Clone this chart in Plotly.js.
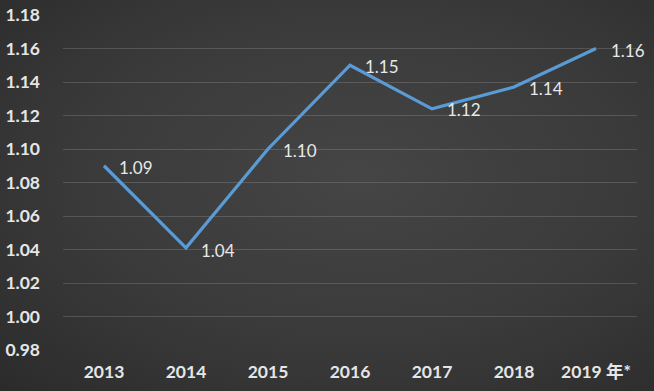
<!DOCTYPE html>
<html><head><meta charset="utf-8">
<script src="https://cdn.plot.ly/plotly-3.0.1.min.js"></script>
<style>
html,body{margin:0;padding:0;}
body{width:654px;height:391px;background:radial-gradient(ellipse at 55% 45%, #454545 0%, #3a3a3a 55%, #2b2b2b 100%);}
#chart{width:654px;height:391px;}
</style></head>
<body><div id="chart"></div>
<script>
const years = ['2013','2014','2015','2016','2017','2018','2019 年*'];
const values = [1.09, 1.041, 1.10, 1.15, 1.124, 1.137, 1.16];
const labels = ['1.09','1.04','1.10','1.15','1.12','1.14','1.16'];
const yTicks = [0.98,1.00,1.02,1.04,1.06,1.08,1.10,1.12,1.14,1.16,1.18];
const labelShiftY = [-2,-3,-1,-1,-1,-1,-2];

const font = 'Lato, "Noto Sans CJK SC", sans-serif';
const annotations = years.map((y,i)=>({
  x: i, xref:'x', y: values[i], yref:'y', text: labels[i], showarrow:false,
  xanchor:'left', yanchor:'middle', xshift: 13, yshift: labelShiftY[i],
  font:{family:font, size:17, color:'#e8e8e8'}
}));

Plotly.newPlot('chart', [{
  x: years, y: values, type:'scatter', mode:'lines',
  line:{color:'#5b9bd5', width:3.2}, hoverinfo:'none'
}], {
  width:654, height:391,
  margin:{l:63, r:17, t:15, b:41},
  paper_bgcolor:'rgba(0,0,0,0)', plot_bgcolor:'rgba(0,0,0,0)',
  showlegend:false,
  xaxis:{type:'category', range:[-0.5,6.5], showgrid:false, zeroline:false, showline:false,
    ticks:'', ticklabelstandoff:9,
    tickfont:{family:font, size:17.5, color:'#e6e6e6', weight:'bold'}},
  yaxis:{range:[0.98,1.18], tickvals:yTicks, ticktext:yTicks.map(v=>v.toFixed(2)),
    showgrid:true, gridcolor:'rgba(255,255,255,0.15)', gridwidth:1, zeroline:false, showline:false,
    ticks:'', ticklabelstandoff:22,
    tickfont:{family:font, size:17.5, color:'#e6e6e6', weight:'bold'}},
  annotations: annotations
}, {displayModeBar:false, staticPlot:true});
</script></body></html>
